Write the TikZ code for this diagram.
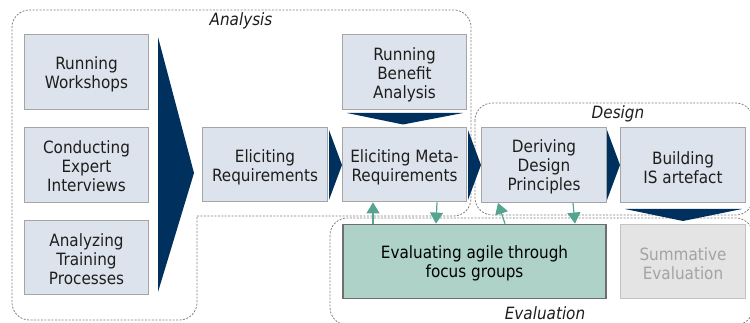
\documentclass[tikz,border=0pt]{standalone}
\usepackage{fontspec}
\setmainfont{DejaVu Sans}[FakeStretch=0.9]
\usetikzlibrary{arrows.meta}
\definecolor{boxfill}{HTML}{DDE3EC}
\definecolor{boxline}{HTML}{A5A5A5}
\definecolor{navy}{HTML}{00305E}
\definecolor{tealfill}{HTML}{AED2C8}
\definecolor{tealline}{HTML}{6E6E6E}
\definecolor{greenarr}{HTML}{55A48F}
\definecolor{sumfill}{HTML}{E4E4E4}
\definecolor{sumline}{HTML}{C3C3C3}
\definecolor{sumtext}{HTML}{A3A3A3}
\definecolor{txt}{HTML}{1E1E1E}
\definecolor{dashc}{HTML}{7F7F7F}
\begin{document}
\begin{tikzpicture}[x=0.75pt,y=-0.75pt,
  every node/.style={font=\fontsize{12.7pt}{14.2pt}\selectfont, text=txt, inner sep=0pt, align=center},
  box/.style={draw=boxline, fill=boxfill, line width=0.8pt, minimum width=93.5pt, minimum height=56pt},
  btxt/.style={},
  region/.style={draw=dashc, line width=0.6pt, dash pattern=on 1.5pt off 1.1pt, rounded corners=13pt},
  chev/.style={fill=navy, draw=none},
  fb/.style={draw=greenarr, line width=0.9pt, -{Triangle[length=8.3pt,width=9.8pt]}},
  lbl/.style={font=\fontsize{12.7pt}{14.2pt}\selectfont\itshape}
]
\useasboundingbox (0,0) rectangle (750,323);
% regions
\draw[region] (197,216) -- (471,216) -- (471,10) -- (12,10) -- (12,320) -- (197,320) -- (197,216);
\draw[region] (475,103) rectangle (753,215);
\draw[region] (330,218) rectangle (753,325);
\node[lbl] (lana) at (241,21) {Analysis};
\node[lbl] (ldes) at (618,114) {Design};
\node[lbl] (leva) at (545,313) {Evaluation};
% boxes
\node[box] (rw) at (86.5,72) {};
\node[btxt] (rw-t) at ([yshift=-2pt]rw.center) {Running\\Workshops};
\node[box] (cei) at (86.5,165) {};
\node[btxt] (cei-t) at ([yshift=-1pt]cei.center) {Conducting\\Expert\\Interviews};
\node[box] (atp) at (86.5,257.5) {};
\node[btxt] (atp-t) at ([yshift=-1.5pt]atp.center) {Analyzing\\Training\\Processes};
\node[box] (er) at (265,164.5) {};
\node[btxt] (er-t) at ([yshift=-2pt]er.center) {Eliciting\\Requirements};
\node[box] (rba) at (404.5,72) {};
\node[btxt] (rba-t) at ([yshift=-2pt]rba.center) {Running\\Benefit\\Analysis};
\node[box] (emr) at (404.5,164.5) {};
\node[btxt] (emr-t) at ([yshift=-2pt]emr.center) {Eliciting Meta-\\Requirements};
\node[box] (ddp) at (544,165) {};
\node[btxt] (ddp-t) at ([yshift=-1.5pt]ddp.center) {Deriving\\Design\\Principles};
\node[box] (bis) at (683,165) {};
\node[btxt] (bis-t) at ([yshift=-2pt]bis.center) {Building\\IS artefact};
\node[box, fill=tealfill, draw=tealline, minimum width=197.25pt] (eag) at (474.5,261.5) {};
\node[btxt, text=black] (eag-t) at ([yshift=-1.5pt]eag.center) {Evaluating agile through\\focus groups};
\node[box, fill=sumfill, draw=sumline] (se) at (683,261.5) {};
\node[btxt, text=sumtext] (se-t) at ([yshift=-1.5pt]se.center) {Summative\\Evaluation};
% chevrons
\fill[chev] (158,37) -- (194,173) -- (158,292) -- cycle;
\fill[chev] (329,130) -- (342,165) -- (329,200) -- cycle;
\fill[chev] (468,130) -- (481,165) -- (468,200) -- cycle;
\fill[chev] (607,130) -- (620,165) -- (607,200) -- cycle;
\fill[chev] (347,113) -- (463,113) -- (403,124.5) -- cycle;
\fill[chev] (625,209) -- (742,209) -- (683,221) -- cycle;
% feedback arrows
\draw[fb] (373,0 |- eag.north) -- (373,0 |- emr.south);
\draw[fb] (437,0 |- emr.south) -- (436,0 |- eag.north);
\draw[fb] (505,0 |- eag.north) -- (498,0 |- ddp.south);
\draw[fb] (573,0 |- ddp.south) -- (575,0 |- eag.north);
\end{tikzpicture}
\end{document}
